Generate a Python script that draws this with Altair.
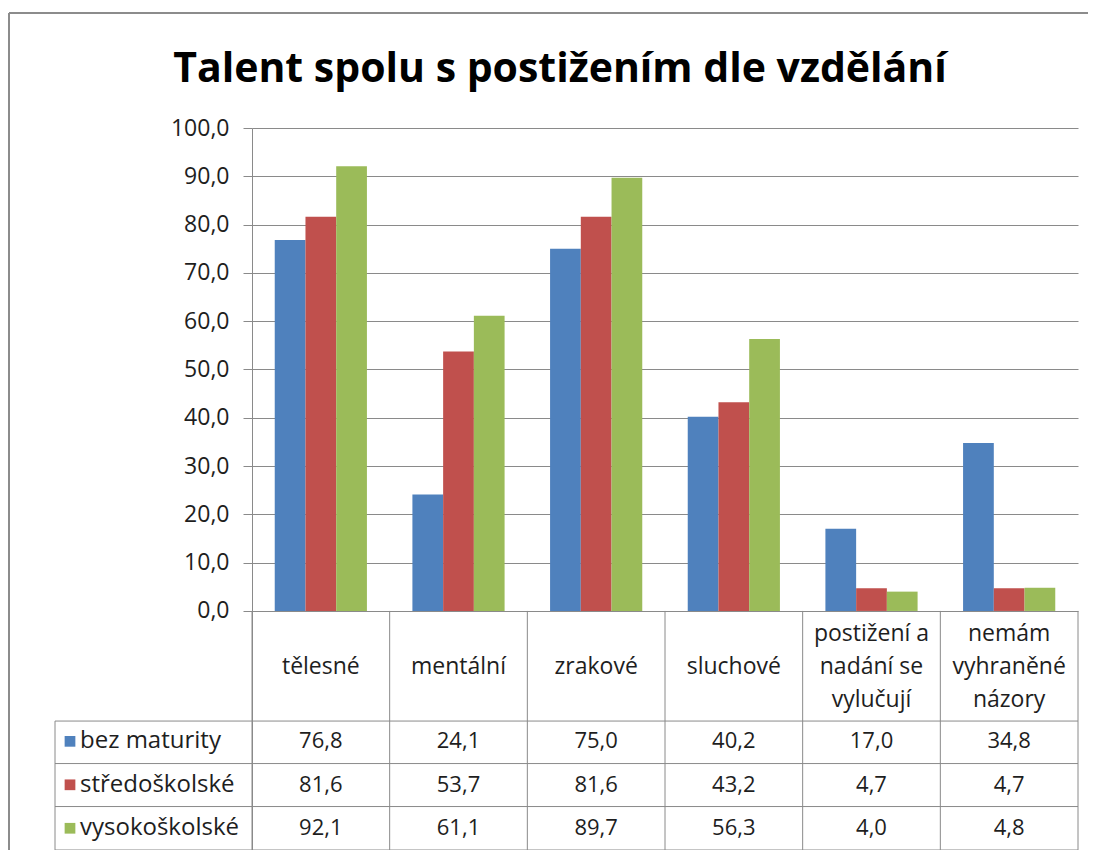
import altair as alt
import pandas as pd

# ---------------- data ----------------
categories = ["tělesné", "mentální", "zrakové", "sluchové",
              "postižení a\nnadání se\nvylučují", "nemám\nvyhraněné\nnázory"]
series = ["bez maturity", "středoškolské", "vysokoškolské"]
bez_maturity = [76.8, 24.1, 75.0, 40.2, 17.0, 34.8]
stredoskolske = [81.6, 53.7, 81.6, 43.2, 4.7, 4.7]
vysokoskolske = [92.1, 61.1, 89.7, 56.3, 4.0, 4.8]
y_ticks = [0, 10, 20, 30, 40, 50, 60, 70, 80, 90, 100]
title_text = "Talent spolu s postižením dle vzdělání"

colors = ["#4F81BD", "#C0504D", "#9BBB59"]
line_color = "#8A8A8A"
text_color = "#1E1E1E"
FONT = "Open Sans"

# ---------------- layout (value units of the y scale below 0 hold the table) ----------------
W, H = 826, 722
PX_PER_UNIT = 4.83
Y_MIN, Y_MAX = -49.5, 100
header_center = -11.6
label_line_h = 33
row_centers = [-27.0, -36.0, -45.0]
row_lines = [-22.8, -31.6, -40.5, -49.5]

values = [bez_maturity, stredoskolske, vysokoskolske]
rows = []
for s_i, s in enumerate(series):
    for c_i, c in enumerate(categories):
        v = values[s_i][c_i]
        rows.append({"cat": c, "series": s, "value": v,
                     "label": f"{v:.1f}".replace(".", ","),
                     "row": row_centers[s_i]})
df = pd.DataFrame(rows)

# first-line position so that multi-line labels are centred in the header cell
n_lines = [c.count("\n") + 1 for c in categories]
first_line_y = [header_center + (n - 1) / 2 * label_line_h / PX_PER_UNIT for n in n_lines]
cat_df = pd.DataFrame({"cat": categories, "y": first_line_y, "top": 0.0, "bottom": Y_MIN})
series_df = pd.DataFrame({"series": series, "row": row_centers})
lines_df = pd.DataFrame({"v": row_lines})
left_df = pd.DataFrame({"top": [row_lines[0]], "bottom": [Y_MIN]})

x_scale = alt.Scale(domain=categories, paddingInner=0, paddingOuter=0)
y_scale = alt.Scale(domain=[Y_MIN, Y_MAX], nice=False, zero=False)
color_scale = alt.Scale(domain=series, range=colors)

y_axis = alt.Axis(values=y_ticks, title=None,
                  labelExpr="replace(format(datum.value, '.1f'), '.', ',')",
                  labelFontSize=23, labelColor=text_color, labelFont=FONT,
                  labelPadding=14, tickSize=9, tickColor=line_color,
                  domainColor=line_color, grid=True, gridColor=line_color)


def X(**kw):
    return alt.X("cat:N", scale=x_scale, axis=None, sort=categories, **kw)


def Y(field):
    return alt.Y(field, scale=y_scale, axis=y_axis)


bars = alt.Chart(df).mark_bar().encode(
    x=X(),
    xOffset=alt.XOffset("series:N", scale=alt.Scale(domain=series, paddingOuter=0.74, paddingInner=0)),
    y=Y("value:Q"),
    color=alt.Color("series:N", scale=color_scale, legend=None),
)

cat_labels = alt.Chart(cat_df).mark_text(
    fontSize=23, font=FONT, lineBreak="\n", baseline="middle", align="center",
    lineHeight=label_line_h, color=text_color
).encode(x=X(), y=Y("y:Q"), text="cat:N")

cell_text = alt.Chart(df).mark_text(
    fontSize=22, font=FONT, baseline="middle", align="center", color=text_color
).encode(x=X(), y=Y("row:Q"), text="label:N")

# table grid lines
vlines_left = alt.Chart(cat_df).mark_rule(color=line_color, strokeWidth=1).encode(
    x=X(bandPosition=0), y=Y("top:Q"), y2="bottom:Q",
)
vline_right = alt.Chart(cat_df.tail(1)).mark_rule(color=line_color, strokeWidth=1).encode(
    x=X(bandPosition=1), y=Y("top:Q"), y2="bottom:Q",
)
hlines = alt.Chart(lines_df).mark_rule(color=line_color, strokeWidth=1).encode(
    y=Y("v:Q"), x=alt.value(-197), x2=alt.value(W),
)
vline_table_left = alt.Chart(left_df).mark_rule(color=line_color, strokeWidth=1).encode(
    x=alt.value(-197), y=Y("top:Q"), y2="bottom:Q",
)

legend_sq = alt.Chart(series_df).mark_square(size=115, opacity=1).encode(
    x=alt.value(-182),
    y=Y("row:Q"),
    color=alt.Color("series:N", scale=color_scale, legend=None),
)
legend_txt = alt.Chart(series_df).mark_text(
    fontSize=24, font=FONT, align="left", baseline="middle", color=text_color
).encode(x=alt.value(-172), y=Y("row:Q"), text="series:N")

title = alt.Chart(pd.DataFrame({"t": [title_text]})).mark_text(
    fontSize=41, font=FONT, fontWeight="bold", align="center", baseline="middle",
    color="#000000"
).encode(x=alt.value(308), y=alt.value(-58), text="t:N")

# outer frame (top and left edges)
frame_top = alt.Chart(lines_df.head(1)).mark_rule(color="#8C8C8C", strokeWidth=2).encode(
    x=alt.value(-243), x2=alt.value(W + 20), y=alt.value(-115))
frame_left = alt.Chart(lines_df.head(1)).mark_rule(color="#8C8C8C", strokeWidth=2).encode(
    x=alt.value(-243), y=alt.value(-115), y2=alt.value(H))

chart = alt.layer(
    frame_top, frame_left, bars, cat_labels, cell_text, vlines_left, vline_right,
    hlines, vline_table_left, legend_sq, legend_txt, title
).properties(
    width=W, height=H,
    autosize=alt.AutoSizeParams(type="none"),
    padding={"left": 244, "top": 120, "right": 10, "bottom": 0},
).configure(font=FONT).configure_view(strokeWidth=0)

chart.save("out.html", embed_options={"renderer": "svg", "actions": False})
